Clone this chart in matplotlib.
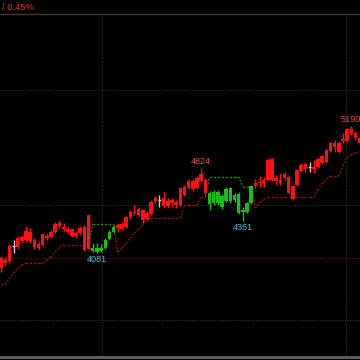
import numpy as np
import matplotlib
matplotlib.use("Agg")
import matplotlib.pyplot as plt
from matplotlib.collections import LineCollection
from matplotlib.lines import Line2D
from matplotlib.patches import Rectangle

# ---- data ----
opens = [4039, 3996, 4013, 4144, 4135, 4222, 4196, 4266, 4196, 4126,
         4153, 4231, 4222, 4266, 4318, 4309, 4292, 4292, 4231, 4257,
         4309, 4414, 4126, 4092, 4100, 4126, 4205, 4266, 4300, 4335,
         4309, 4396, 4440, 4414, 4457, 4379, 4422, 4535, 4544, 4561,
         4492, 4544, 4500, 4500, 4588, 4648, 4709, 4648, 4709, 4718,
         4605, 4518, 4614, 4579, 4535, 4648, 4544, 4596, 4440, 4440,
         4518, 4666, 4692, 4683, 4718, 4901, 4709, 4718, 4735, 4744,
         4666, 4675, 4796, 4857, 4831, 4814, 4831, 4866, 4875, 4970,
         5040, 5040, 5057, 5057, 5118, 5127, 5083]
highs = [4057, 4048, 4161, 4196, 4231, 4240, 4318, 4300, 4213, 4179,
         4257, 4257, 4283, 4353, 4370, 4344, 4309, 4300, 4274, 4318,
         4327, 4422, 4170, 4170, 4161, 4213, 4283, 4327, 4344, 4353,
         4405, 4457, 4500, 4483, 4466, 4448, 4544, 4579, 4588, 4614,
         4561, 4561, 4544, 4657, 4675, 4727, 4727, 4753, 4824, 4735,
         4622, 4631, 4631, 4596, 4657, 4657, 4605, 4614, 4483, 4527,
         4675, 4727, 4753, 4744, 4909, 4909, 4762, 4779, 4788, 4753,
         4675, 4814, 4866, 4875, 4875, 4892, 4909, 4936, 4988, 5049,
         5066, 5057, 5127, 5165, 5190, 5144, 5101]
lows = [3918, 3970, 3996, 4083, 4118, 4170, 4179, 4170, 4118, 4109,
        4144, 4196, 4213, 4257, 4300, 4274, 4248, 4222, 4213, 4240,
        4100, 4109, 4092, 4081, 4092, 4118, 4196, 4257, 4266, 4283,
        4300, 4379, 4414, 4405, 4344, 4370, 4414, 4518, 4483, 4474,
        4474, 4483, 4474, 4492, 4579, 4640, 4622, 4640, 4701, 4596,
        4457, 4500, 4500, 4466, 4527, 4518, 4527, 4422, 4361, 4431,
        4509, 4648, 4657, 4657, 4709, 4709, 4675, 4675, 4718, 4596,
        4544, 4666, 4788, 4788, 4788, 4779, 4822, 4857, 4866, 4962,
        4962, 4953, 5040, 5049, 5110, 5066, 5023]
closes = [3952, 4022, 4144, 4144, 4213, 4187, 4274, 4187, 4135, 4161,
          4248, 4213, 4266, 4335, 4344, 4292, 4266, 4231, 4257, 4300,
          4109, 4118, 4100, 4126, 4126, 4196, 4266, 4309, 4327, 4292,
          4396, 4440, 4431, 4466, 4370, 4431, 4527, 4561, 4544, 4492,
          4535, 4518, 4527, 4648, 4657, 4709, 4640, 4735, 4770, 4605,
          4509, 4614, 4518, 4483, 4640, 4535, 4588, 4431, 4457, 4518,
          4666, 4692, 4701, 4718, 4892, 4718, 4735, 4692, 4770, 4605,
          4553, 4805, 4849, 4814, 4831, 4831, 4901, 4927, 4979, 5040,
          5005, 4962, 5075, 5162, 5162, 5083, 5040]
# trend regime per bar: 1 = up (red), -1 = down (green)
trend = [1] * 22 + [-1] * 6 + [1] * 22 + [-1] * 11 + [1] * 26
# trailing stop level per bar
stop = [3813, 3813, 3857, 3909, 3952, 3979, 3996, 3996, 3996, 3996,
        3996, 4022, 4048, 4092, 4135, 4153, 4153, 4153, 4153, 4153,
        4153, 4153, 4335, 4335, 4335, 4335, 4335, 4335, 4092, 4126,
        4170, 4213, 4257, 4292, 4327, 4361, 4387, 4387, 4387, 4387,
        4387, 4387, 4387, 4387, 4500, 4500, 4500, 4500, 4570, 4570,
        4744, 4744, 4744, 4744, 4744, 4744, 4744, 4744, 4657, 4657,
        4657, 4474, 4518, 4553, 4570, 4570, 4570, 4570, 4570, 4570,
        4570, 4570, 4570, 4570, 4570, 4570, 4631, 4683, 4727, 4753,
        4753, 4753, 4840, 4918, 4936, 4953, 4962]
ref_level = 4039
grid_prices = [3500, 4500, 5500]
title_text = "/ 0.45%"

# ---- styling ----
BG = "#000000"
UP = "#ff1010"
DN = "#14c014"
DOJI = "#c8c8c8"
STOP_UP = "#a01414"
STOP_DN = "#1f9a1f"
LBL_HI = "#e84848"
LBL_LO = "#48c0d8"
GRID = "#383838"
FONT = "Liberation Sans"

o = np.array(opens, float)
h = np.array(highs, float)
l = np.array(lows, float)
c = np.array(closes, float)
t = np.array(trend)
s = np.array(stop, float)
n = len(o)
x = np.arange(n)

fig = plt.figure(figsize=(3.6, 3.6), dpi=100, facecolor=BG)
ax = fig.add_axes([0, 4 / 360, 1, 343 / 360], facecolor=BG)
ax.set_xlim(-0.24, 86.09)
ax.set_ylim(3500 - 36 * 8.696, 3500 + 307 * 8.696)
for sp in ax.spines.values():
    sp.set_visible(False)
ax.set_xticks([])
ax.set_yticks([])

# grid
for gp in grid_prices:
    ax.axhline(gp, color=GRID, lw=0.8, ls=(0, (1, 1.5)), zorder=0)
for gx in [24.2, 82.7]:
    ax.axvline(gx, color=GRID, lw=0.8, ls=(0, (1, 1.5)), zorder=0)

ax.axhline(ref_level, color="#801010", lw=0.8, ls=(0, (1, 1.5)), zorder=1)

# stop line, segments coloured by the regime of the bar they end on
segs = [[(x[i - 1], s[i - 1]), (x[i], s[i])] for i in range(1, n)]
cols = [STOP_UP if t[i] > 0 else STOP_DN for i in range(1, n)]
lc = LineCollection(segs, colors=cols, linewidths=1.0, linestyles=[(0, (1.2, 1.2))], zorder=2)
ax.add_collection(lc)

# candles
w = 0.84
for i in range(n):
    if o[i] == c[i]:
        col = DOJI
    else:
        col = UP if t[i] > 0 else DN
    ax.vlines(x[i], l[i], h[i], color=col, lw=1.0, zorder=3)
    if o[i] == c[i]:
        ax.hlines(o[i], x[i] - w / 2, x[i] + w / 2, color=col, lw=1.0, zorder=4)
    else:
        ax.bar(x[i], abs(c[i] - o[i]), bottom=min(o[i], c[i]), width=w,
               color=col, linewidth=0, zorder=4)

# extreme labels for each regime segment (first segment starts off-screen)
starts = [0] + [i for i in range(1, n) if t[i] != t[i - 1]]
ends = starts[1:] + [n]
for a, b in list(zip(starts, ends))[1:]:
    if t[a] > 0:
        k = a + int(np.argmax(h[a:b]))
        ax.annotate(f"{h[k]:.0f}", (x[k], h[k]), xytext=(0, 1.5), textcoords="offset points",
                    ha="center", va="bottom", color=LBL_HI, fontsize=6.6, family=FONT, zorder=5)
    else:
        k = a + int(np.argmin(l[a:b]))
        ax.annotate(f"{l[k]:.0f}", (x[k], l[k]), xytext=(0, -1.5), textcoords="offset points",
                    ha="center", va="top", color=LBL_LO, fontsize=6.6, family=FONT, zorder=5)

# header / footer decorations
fig.add_artist(Line2D([0, 1], [1 - 13.5 / 360, 1 - 13.5 / 360], color="#3a3a3a", lw=1.0))
fig.add_artist(Rectangle((0, 1.5 / 360), 1, 2.5 / 360, color="#5a5a5a", lw=0))
fig.text(2 / 360, 1 - 7 / 360, title_text, color="#f03030", fontsize=6.8, family=FONT,
         ha="left", va="center")

fig.savefig("out.png", dpi=100, facecolor=BG)
